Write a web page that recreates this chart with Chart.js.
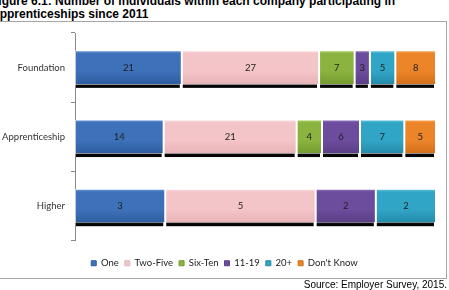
<!DOCTYPE html>
<html>
<head>
<meta charset="utf-8">
<script src="https://cdn.jsdelivr.net/npm/chart.js@4/dist/chart.umd.min.js"></script>
<style>
  body { margin: 0; width: 449px; height: 290px; overflow: hidden; background: #fff; position: relative; font-family: "Liberation Sans", Arial, sans-serif; }
  #title { position: absolute; left: -9px; top: -5px; font-weight: bold; font-size: 12px; line-height: 13px; white-space: nowrap; color: #000; }
  #box { position: absolute; left: -2px; top: 21px; width: 447px; height: 256px; border: 1px solid #a6a6a6; }
  #source { position: absolute; right: 2px; top: 279px; font-size: 10px; line-height: 12px; color: #000; white-space: nowrap; }
  #myChart { position: absolute; left: 0; top: 0; }
</style>
</head>
<body>
<div id="title">Figure 6.1: Number of individuals within each company participating in<br>Apprenticeships since 2011</div>
<div id="box"></div>
<canvas id="myChart" width="449" height="290"></canvas>
<div id="source">Source: Employer Survey, 2015.</div>
<script>
var categories = ["Foundation", "Apprenticeship", "Higher"];
var seriesNames = ["One", "Two-Five", "Six-Ten", "11-19", "20+", "Don't Know"];
var one = [21, 14, 3];
var twoFive = [27, 21, 5];
var sixTen = [7, 4, 0];
var elevenNineteen = [3, 6, 2];
var twentyPlus = [5, 7, 2];
var dontKnow = [8, 5, 0];
var series = [one, twoFive, sixTen, elevenNineteen, twentyPlus, dontKnow];

var lightCol = ["#7aa6e0", "#fde6e8", "#b6d873", "#9b80c6", "#78d3ea", "#f9b56a"];
var midCol = ["#3d71b9", "#f3c4c8", "#8ab43f", "#6c4c9c", "#31a5c6", "#ec8429"];
var darkCol = ["#2d5c9e", "#e8b3b7", "#729a2e", "#5a3d86", "#2489a8", "#d06f1a"];

// each row is shown as 100 %
var totals = categories.map(function (c, j) {
  return series.reduce(function (s, arr) { return s + arr[j]; }, 0);
});

function fill(i) {
  return function (c) {
    var chart = c.chart;
    var y = chart.scales && chart.scales.y;
    if (c.dataIndex === undefined || !y) return midCol[i];
    var cy = y.getPixelForValue(c.dataIndex);
    if (!isFinite(cy)) return midCol[i];
    var g = chart.ctx.createLinearGradient(0, cy - 17.5, 0, cy + 17.5);
    g.addColorStop(0, lightCol[i]);
    g.addColorStop(0.1, midCol[i]);
    g.addColorStop(0.6, midCol[i]);
    g.addColorStop(1, darkCol[i]);
    return g;
  };
}

// black strip under each bar segment
var shadowPlugin = {
  id: "shadow",
  afterLayout: function (chart) {
    // centre the legend on the whole canvas
    var lg = chart.legend;
    if (lg) { lg.left = 13; lg.width = lg.right - 13; }
  },
  beforeDatasetsDraw: function (chart) {
    var c = chart.ctx;
    c.save();
    c.fillStyle = "#050505";
    chart.data.datasets.forEach(function (ds, i) {
      chart.getDatasetMeta(i).data.forEach(function (el, j) {
        if (!series[i][j]) return;
        var p = el.getProps(["x", "y", "base", "height"], true);
        var l = Math.min(p.x, p.base), r = Math.max(p.x, p.base);
        c.fillRect(l + 1, p.y + p.height / 2 - 1, r - l - 3, 4);
      });
    });
    c.restore();
  }
};

var valuePlugin = {
  id: "values",
  afterDatasetsDraw: function (chart) {
    var c = chart.ctx;
    c.save();
    c.font = "9.5px Lato";
    c.fillStyle = "#1f1f1f";
    c.textAlign = "center";
    c.textBaseline = "middle";
    chart.data.datasets.forEach(function (ds, i) {
      chart.getDatasetMeta(i).data.forEach(function (el, j) {
        var v = series[i][j];
        if (!v) return;
        var p = el.getCenterPoint();
        c.fillText(v, p.x, p.y);
      });
    });
    c.restore();
  }
};

var ctx = document.getElementById("myChart");
var myChart = new Chart(ctx, {
  type: "bar",
  data: {
    labels: categories,
    datasets: series.map(function (arr, i) {
      return {
        label: seriesNames[i],
        data: arr.map(function (v, j) { return v ? v / totals[j] * 100 : null; }),
        backgroundColor: fill(i),
        borderColor: "rgba(255,255,255,0.55)",
        borderWidth: 1,
        borderSkipped: false,
        barPercentage: 0.5,
        categoryPercentage: 1
      };
    })
  },
  options: {
    indexAxis: "y",
    responsive: false,
    animation: false,
    devicePixelRatio: 1,
    layout: { padding: { top: 33, right: 13, left: 0, bottom: 12 } },
    scales: {
      x: {
        stacked: true, min: 0, max: 100,
        ticks: { display: false },
        grid: { display: false },
        border: { display: false },
        afterFit: function (s) { s.height = 12; }
      },
      y: {
        stacked: true,
        grid: { drawOnChartArea: false, tickLength: 4, color: "#888" },
        border: { color: "#888" },
        ticks: { padding: 6, color: "#333", font: { family: "Lato", size: 9.5 } },
        afterFit: function (s) { s.width = 75; }
      }
    },
    plugins: {
      legend: {
        position: "bottom",
        labels: {
          boxWidth: 5,
          boxHeight: 5,
          padding: 6,
          color: "#222",
          font: { family: "Lato", size: 9.5 },
          generateLabels: function (chart) {
            return Chart.defaults.plugins.legend.labels.generateLabels(chart).map(function (l) {
              l.fillStyle = midCol[l.datasetIndex];
              l.strokeStyle = darkCol[l.datasetIndex];
              l.lineWidth = 1;
              return l;
            });
          }
        }
      },
      tooltip: { enabled: false }
    }
  },
  plugins: [shadowPlugin, valuePlugin]
});
</script>
</body>
</html>
